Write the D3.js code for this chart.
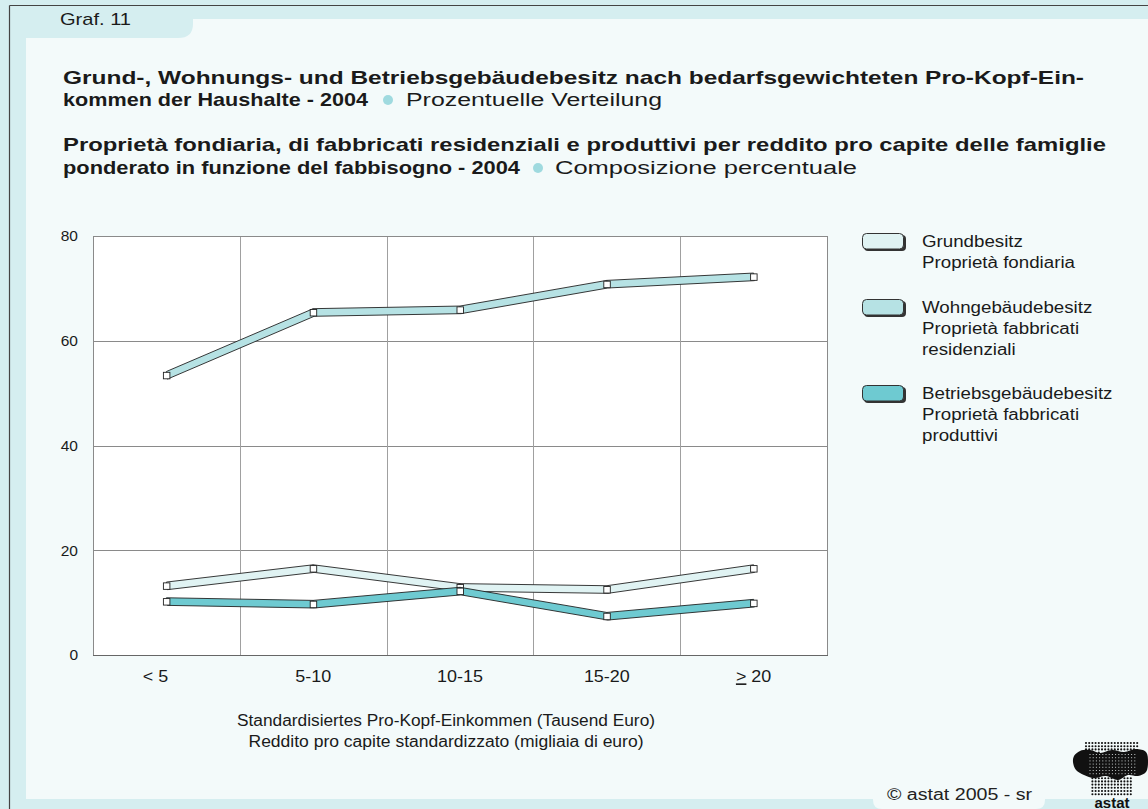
<!DOCTYPE html>
<html>
<head>
<meta charset="utf-8">
<script src="https://cdn.jsdelivr.net/npm/d3@7"></script>
<style>
  html, body { margin: 0; padding: 0; background: #d5eef0; }
  svg { display: block; font-family: "Liberation Sans", Arial, sans-serif; }
</style>
</head>
<body>
<svg id="chart" width="1148" height="809"></svg>
<script>
// ---------- DATA ----------
const categories = ["< 5", "5-10", "10-15", "15-20", ">= 20"];
const grundbesitz = [13.2, 16.5, 12.9, 12.5, 16.5];
const wohngebaeude = [53.4, 65.4, 65.9, 70.8, 72.2];
const betriebsgebaeude = [10.2, 9.7, 12.2, 7.4, 9.9];
const yTicks = [0, 20, 40, 60, 80];
const seriesNames = [
  ["Grundbesitz", "Proprietà fondiaria"],
  ["Wohngebäudebesitz", "Proprietà fabbricati", "residenziali"],
  ["Betriebsgebäudebesitz", "Proprietà fabbricati", "produttivi"]
];
const seriesColors = ["#e0f3f3", "#b6e2e4", "#6ecad1"];
const titleDe = ["Grund-, Wohnungs- und Betriebsgebäudebesitz nach bedarfsgewichteten Pro-Kopf-Ein-", "kommen der Haushalte - 2004"];
const subDe = "Prozentuelle Verteilung";
const titleIt = ["Proprietà fondiaria, di fabbricati residenziali e produttivi per reddito pro capite delle famiglie", "ponderato in funzione del fabbisogno - 2004"];
const subIt = "Composizione percentuale";
const xTitle = ["Standardisiertes Pro-Kopf-Einkommen (Tausend Euro)", "Reddito pro capite standardizzato (migliaia di euro)"];

const series = [grundbesitz, wohngebaeude, betriebsgebaeude];

// ---------- HELPERS ----------
const svg = d3.select("#chart");
const W = 1148, H = 809;
const plot = {left: 93, right: 827, top: 236, bottom: 655};

function setLen(sel, target) {
  sel.attr("textLength", target).attr("lengthAdjust", "spacingAndGlyphs");
  return sel;
}
function stretch(sel, factor) {
  const len = sel.node().getComputedTextLength();
  return setLen(sel, len * factor);
}
function txt(xp, yp, s, fs, opts = {}) {
  const t = svg.append("text").attr("x", xp).attr("y", yp).attr("font-size", fs)
    .attr("fill", "#1a1a1a").text(s);
  if (opts.bold) t.attr("font-weight", "bold");
  if (opts.anchor) t.attr("text-anchor", opts.anchor);
  return t;
}

// ---------- FRAME ----------
svg.append("rect").attr("x", 0).attr("y", 0).attr("width", W).attr("height", H).attr("fill", "#d5eef0");
svg.append("path")
  .attr("d", `M26,38 L178,38 Q193,38 193,24 L193,19 L${W},19 L${W},799 L1045,799 L1045,800 Q1045,809 1036,809 L882,809 Q873,809 873,800 L873,799 L26,799 Z`)
  .attr("fill", "#f3fafa");
svg.append("line").attr("x1", 9.5).attr("x2", W).attr("y1", 5.5).attr("y2", 5.5).attr("stroke", "#444").attr("stroke-width", 1.2);
svg.append("line").attr("x1", 9.5).attr("x2", 9.5).attr("y1", 5.5).attr("y2", H).attr("stroke", "#444").attr("stroke-width", 1.2);

setLen(txt(60, 25, "Graf. 11", 17), 71);

// ---------- TITLES ----------
setLen(txt(63, 84, titleDe[0], 18.5, {bold: true}), 1021);
setLen(txt(63, 106, titleDe[1], 18.5, {bold: true}), 305);
svg.append("circle").attr("cx", 388).attr("cy", 100).attr("r", 5).attr("fill", "#9fdadf");
setLen(txt(406, 106, subDe, 18), 256);

setLen(txt(63, 151, titleIt[0], 18.5, {bold: true}), 1043);
setLen(txt(63, 174, titleIt[1], 18.5, {bold: true}), 457);
svg.append("circle").attr("cx", 538).attr("cy", 168).attr("r", 5).attr("fill", "#9fdadf");
setLen(txt(555, 174, subIt, 18), 302);

// ---------- SCALES ----------
const x = d3.scaleBand().domain(categories).range([plot.left, plot.right]).paddingInner(0).paddingOuter(0);
const y = d3.scaleLinear().domain([0, 80]).range([plot.bottom, plot.top]);

svg.append("rect").attr("x", plot.left).attr("y", plot.top).attr("width", plot.right - plot.left).attr("height", plot.bottom - plot.top).attr("fill", "#ffffff");

const g = svg.append("g");
g.selectAll(".hg").data(yTicks.slice(1)).enter().append("line")
  .attr("x1", plot.left).attr("x2", plot.right)
  .attr("y1", d => Math.round(y(d)) + 0.5).attr("y2", d => Math.round(y(d)) + 0.5)
  .attr("stroke", "#8a8a8a").attr("stroke-width", 1);
g.selectAll(".vg").data(categories.slice(1)).enter().append("line")
  .attr("x1", d => Math.round(x(d)) + 0.5).attr("x2", d => Math.round(x(d)) + 0.5)
  .attr("y1", plot.top).attr("y2", plot.bottom)
  .attr("stroke", "#a0a0a0").attr("stroke-width", 1);
svg.append("rect").attr("x", plot.left + 0.5).attr("y", plot.top + 0.5).attr("width", plot.right - plot.left).attr("height", plot.bottom - plot.top)
  .attr("fill", "none").attr("stroke", "#8a8a8a");
svg.append("line").attr("x1", plot.left).attr("x2", plot.right + 1).attr("y1", plot.bottom + 0.5).attr("y2", plot.bottom + 0.5).attr("stroke", "#666");

// y axis labels
const yAxis = d3.axisLeft(y).tickValues(yTicks).tickSize(0).tickPadding(15);
const ya = svg.append("g").attr("transform", `translate(${plot.left},0)`).call(yAxis);
ya.select(".domain").remove();
ya.selectAll("text").attr("font-size", 15.5).attr("fill", "#1a1a1a").attr("font-family", "Liberation Sans, Arial, sans-serif");

// x axis labels
const xAxis = d3.axisBottom(x).tickSize(0).tickPadding(16);
const xa = svg.append("g").attr("transform", `translate(0,${plot.bottom})`).call(xAxis);
xa.select(".domain").remove();
xa.selectAll("text").attr("font-size", 16).attr("fill", "#1a1a1a").attr("font-family", "Liberation Sans, Arial, sans-serif")
  .each(function(d, i) {
    const t = d3.select(this);
    if (d.startsWith(">=")) {
      t.text("");
      t.append("tspan").attr("text-decoration", "underline").text(">");
      t.append("tspan").text(" " + d.slice(2).trim());
    }
    if (i === 0) t.attr("dx", -11);
    stretch(t, 1.12);
  });

// axis title
setLen(txt(446, 726, xTitle[0], 16, {anchor: "middle"}), 418);
setLen(txt(446, 747, xTitle[1], 16, {anchor: "middle"}), 395);

// ---------- RIBBONS ----------
const hh = 3.8;
const cx = d => x(d) + x.bandwidth() / 2;
series.forEach((vals, si) => {
  const gs = svg.append("g");
  const pts = vals.map((v, i) => [cx(categories[i]), y(v)]);
  for (let i = 0; i < pts.length - 1; i++) {
    const [x1, y1] = pts[i], [x2, y2] = pts[i + 1];
    gs.append("path")
      .attr("d", `M${x1},${y1 - hh}L${x2},${y2 - hh}L${x2 + 1},${y2 + hh}L${x1 + 1},${y1 + hh}Z`)
      .attr("fill", seriesColors[si]).attr("stroke", "#222").attr("stroke-width", 0.9).attr("stroke-linejoin", "round");
  }
  gs.selectAll("rect.m").data(pts).enter().append("rect")
    .attr("x", d => d[0] - 3).attr("y", d => d[1] - 3).attr("width", 6.5).attr("height", 6.5)
    .attr("fill", "#ffffff").attr("stroke", "#222").attr("stroke-width", 0.9);
});

// ---------- LEGEND ----------
const legendY = [233, 299, 385];
seriesNames.forEach((lines, i) => {
  const ly = legendY[i];
  svg.append("rect").attr("x", 864).attr("y", ly + 2).attr("width", 42).attr("height", 16).attr("rx", 4).attr("fill", "#333");
  svg.append("rect").attr("x", 862.5).attr("y", ly + 0.5).attr("width", 41).attr("height", 15.5).attr("rx", 4)
    .attr("fill", seriesColors[i]).attr("stroke", "#333").attr("stroke-width", 1);
  lines.forEach((s, j) => {
    stretch(txt(922, ly + 14 + j * 21, s, 16), 1.17);
  });
});

// ---------- FOOTER ----------
setLen(txt(887, 800, "©  astat 2005 - sr", 16), 145).attr("fill", "#222");

// astat logo (decorative)
const logo = svg.append("g");
const blob = [[1074,756],[1080,751],[1090,750],[1100,753],[1112,750],[1124,752],[1136,749],[1146,752],[1148,762],[1146,772],[1138,776],[1128,775],[1118,780],[1106,776],[1094,778],[1084,775],[1076,770],[1073,762]];
const blobPath = d3.line().curve(d3.curveCatmullRomClosed)(blob);
for (let yy = 743; yy <= 796; yy += 3.2) {
  for (let xx = 1086; xx <= 1140; xx += 3.2) {
    if (d3.polygonContains(blob, [xx, yy])) continue;
    if (yy > 778 && (xx < 1090 || xx > 1134)) continue;
    logo.append("circle").attr("cx", xx).attr("cy", yy).attr("r", 1.05).attr("fill", "#111");
  }
}
logo.append("path").attr("d", blobPath).attr("fill", "#111");
for (let yy = 754.5; yy <= 775; yy += 3.2) {
  for (let xx = 1090; xx <= 1138; xx += 3.2) {
    if (!d3.polygonContains(blob, [xx, yy])) continue;
    logo.append("rect").attr("x", xx - 0.5).attr("y", yy - 0.5).attr("width", 1).attr("height", 1).attr("fill", "#f3fafa").attr("opacity", 0.8);
  }
}
logo.append("text").attr("x", 1112).attr("y", 808).attr("text-anchor", "middle").attr("font-size", 15)
  .attr("font-weight", "bold").attr("fill", "#111").text("astat");
</script>
</body>
</html>
